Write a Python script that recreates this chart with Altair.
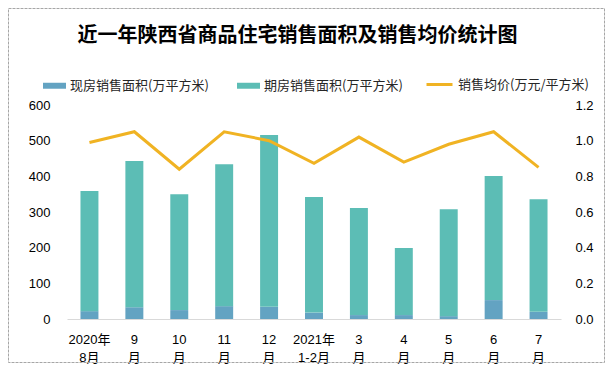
import altair as alt
import pandas as pd

months = ["2020年|8月", "9|月", "10|月", "11|月", "12|月", "2021年|1-2月",
          "3|月", "4|月", "5|月", "6|月", "7|月"]
existing = [22, 33, 25, 36, 34, 18, 11, 11, 8, 53, 20]
futures = [337, 410, 325, 398, 482, 324, 300, 188, 300, 348, 316]
price = [0.99, 1.05, 0.84, 1.05, 1.00, 0.873, 1.02, 0.88, 0.98, 1.05, 0.85]

s1 = "现房销售面积(万平方米)"
s2 = "期房销售面积(万平方米)"
s3 = "销售均价(万元/平方米)"
title_text = "近一年陕西省商品住宅销售面积及销售均价统计图"

c_exist = "#63A3C2"
c_fut = "#5CBDB5"
c_line = "#F0B323"

rows = []
for m, e, f in zip(months, existing, futures):
    rows.append({"month": m, "series": s1, "value": e, "ord": 0})
    rows.append({"month": m, "series": s2, "value": f, "ord": 1})
bars_df = pd.DataFrame(rows)
line_df = pd.DataFrame({"month": months, "series": [s3] * len(months), "price": price})

num_font = "Liberation Sans, Noto Sans CJK SC"
cjk_font = "Noto Sans CJK SC"

W, H = 494, 214
PL, PT, PR, PB = 59, 97, 45, 45

x_enc = alt.X(
    "month:N",
    sort=months,
    scale=alt.Scale(paddingInner=0.6, paddingOuter=0.3),
    axis=alt.Axis(
        title=None,
        labelExpr="split(datum.label, '|')",
        labelAngle=0,
        labelFont=num_font,
        labelFontSize=13,
        labelColor="#000000",
        labelLineHeight=18,
        labelPadding=14,
        ticks=False,
        domain=True,
        domainColor="#D9D9D9",
        domainWidth=1,
    ),
)

bars = alt.Chart(bars_df).mark_bar().encode(
    x=x_enc,
    y=alt.Y(
        "value:Q",
        stack="zero",
        scale=alt.Scale(domain=[0, 600], nice=False),
        axis=alt.Axis(
            title=None,
            orient="left",
            values=[0, 100, 200, 300, 400, 500, 600],
            labelFont=num_font,
            labelFontSize=13,
            labelColor="#000000",
            labelPadding=17,
            ticks=False,
            domain=False,
            grid=False,
        ),
    ),
    fill=alt.Fill(
        "series:N",
        scale=alt.Scale(domain=[s1, s2], range=[c_exist, c_fut]),
        legend=alt.Legend(
            title=None,
            orient="none",
            legendX=-24,
            legendY=-31,
            direction="horizontal",
            symbolType="M-1,-0.26H1V0.26H-1Z",
            symbolSize=529,
            symbolStrokeWidth=0,
            labelFont=cjk_font,
            labelFontSize=13,
            labelColor="#262626",
            labelOffset=4,
            columnPadding=28,
            padding=0,
        ),
    ),
    order=alt.Order("ord:Q", sort="ascending"),
)

line = alt.Chart(line_df).mark_line(strokeWidth=3).encode(
    x=alt.X("month:N", sort=months),
    y=alt.Y(
        "price:Q",
        scale=alt.Scale(domain=[0, 1.2], nice=False),
        axis=alt.Axis(
            title=None,
            orient="right",
            values=[0, 0.2, 0.4, 0.6, 0.8, 1.0, 1.2],
            format=".1f",
            labelFont=num_font,
            labelFontSize=13,
            labelColor="#000000",
            labelPadding=14,
            ticks=False,
            domain=False,
            grid=False,
        ),
    ),
    stroke=alt.Stroke(
        "series:N",
        scale=alt.Scale(domain=[s3], range=[c_line]),
        legend=alt.Legend(
            title=None,
            orient="none",
            legendX=358,
            legendY=-35,
            direction="horizontal",
            symbolType="stroke",
            symbolSize=676,
            symbolStrokeWidth=3,
            labelFont=cjk_font,
            labelFontSize=13,
            labelColor="#262626",
            labelOffset=4,
            padding=0,
        ),
    ),
)

frame = alt.Chart(alt.Data(values=[{"k": 1}])).mark_rect(
    fillOpacity=0, stroke="#A6A6A6", strokeWidth=1, strokeDash=[3, 1]
).encode(
    x=alt.value(-PL + 0.5),
    x2=alt.value(W + PR - 1.5),
    y=alt.value(-PT + 0.5),
    y2=alt.value(H + PB - 1.5),
)

title = alt.Chart(alt.Data(values=[{"k": 1}])).mark_text(
    text=title_text,
    font=cjk_font,
    fontSize=20,
    fontWeight="bold",
    align="center",
    baseline="middle",
    color="#000000",
).encode(x=alt.value(230.5), y=alt.value(-69))

chart = (
    alt.layer(frame, title, bars, line)
    .resolve_scale(y="independent")
    .properties(
        width=W,
        height=H,
        autosize=alt.AutoSizeParams(type="none"),
        padding={"left": PL, "top": PT, "right": PR, "bottom": PB},
        background="#FFFFFF",
    )
    .configure_view(strokeWidth=0)
    .configure_axis(grid=False)
)

chart.save("out.html", embed_options={"renderer": "svg", "actions": False})
